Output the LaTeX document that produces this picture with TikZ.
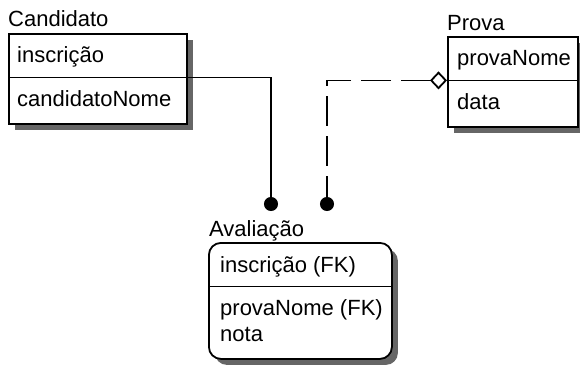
\documentclass[tikz,border=0pt]{standalone}
\usepackage{fontspec}
\setmainfont{Liberation Sans}
\usetikzlibrary{positioning,arrows.meta,calc,shadows}
\newcommand{\erfont}{\fontsize{22}{25}\selectfont}
\tikzset{
  entity/.style={draw=black,line width=1.8pt,fill=white,inner sep=0pt,anchor=north west,
    drop shadow={shadow xshift=6pt,shadow yshift=-6pt,fill=black!60,opacity=1}},
  weakentity/.style={entity,rounded corners=12pt},
  title/.style={inner sep=0pt,anchor=base west,font=\erfont},
  attr/.style={inner sep=0pt,text height=17pt,text depth=5pt,font=\erfont},
  divider/.style={line width=1.8pt},
  idline/.style={line width=1.8pt,-{Circle[length=14pt]}},
  nonidline/.style={line width=1.8pt,dash pattern=on 30pt off 10pt,
    {Diamond[open,length=17pt,width=18pt,fill=white]}-{Circle[length=14pt]}}
}

\begin{document}
\begin{tikzpicture}[x=1pt,y=1pt,node distance=10pt]
  \useasboundingbox[fill=white] (0,0) rectangle (580,-367);

  % Candidato
  \node[entity,minimum width=178pt,minimum height=90pt] (cand) at (8,-33) {};
  \node[title] (candtitle) at ($(cand.north west)+(0,7)$) {Candidato};
  \node[attr,below right=12pt and 9pt of cand.north west] (candkey) {inscrição};
  \coordinate[below=10pt of candkey.south] (candsep);
  \draw[divider] (candsep -| cand.west) -- (candsep -| cand.east);
  \node[attr,below right=22pt and 0pt of candkey.south west] (candname) {candidatoNome};

  % Prova
  \node[entity,minimum width=130pt,minimum height=90pt] (prova) at (447,-36) {};
  \node[title] (provatitle) at ($(prova.north west)+(0,6)$) {Prova};
  \node[attr,below right=12pt and 10pt of prova.north west] (provakey) {provaNome};
  \coordinate[below=10pt of provakey.south] (provasep);
  \draw[divider] (provasep -| prova.west) -- (provasep -| prova.east);
  \node[attr,below right=22pt and 0pt of provakey.south west] (provadata) {data};

  % Avaliacao
  \node[weakentity,minimum width=183pt,minimum height=116pt] (aval) at (208,-242) {};
  \node[title] (avaltitle) at ($(aval.north west)+(1,6)$) {Avaliação};
  \node[attr,below right=13pt and 12pt of aval.north west] (avalkey) {inscrição (FK)};
  \coordinate[below=9pt of avalkey.south] (avalsep);
  \draw[divider] (avalsep -| aval.west) -- (avalsep -| aval.east);
  \node[attr,below right=21pt and 0pt of avalkey.south west] (avalfk) {provaNome (FK)};
  \node[attr,below right=3pt and 0pt of avalfk.south west] (avalnota) {nota};

  % relacionamentos
  \coordinate (dotcand) at ($(aval.north west)+(63,31)$);
  \coordinate (dotprova) at ($(aval.north west)+(119,31)$);
  \draw[idline] (candsep -| cand.east) -| (dotcand);
  \draw[nonidline] (provasep -| prova.west) -| (dotprova);
\end{tikzpicture}
\end{document}
